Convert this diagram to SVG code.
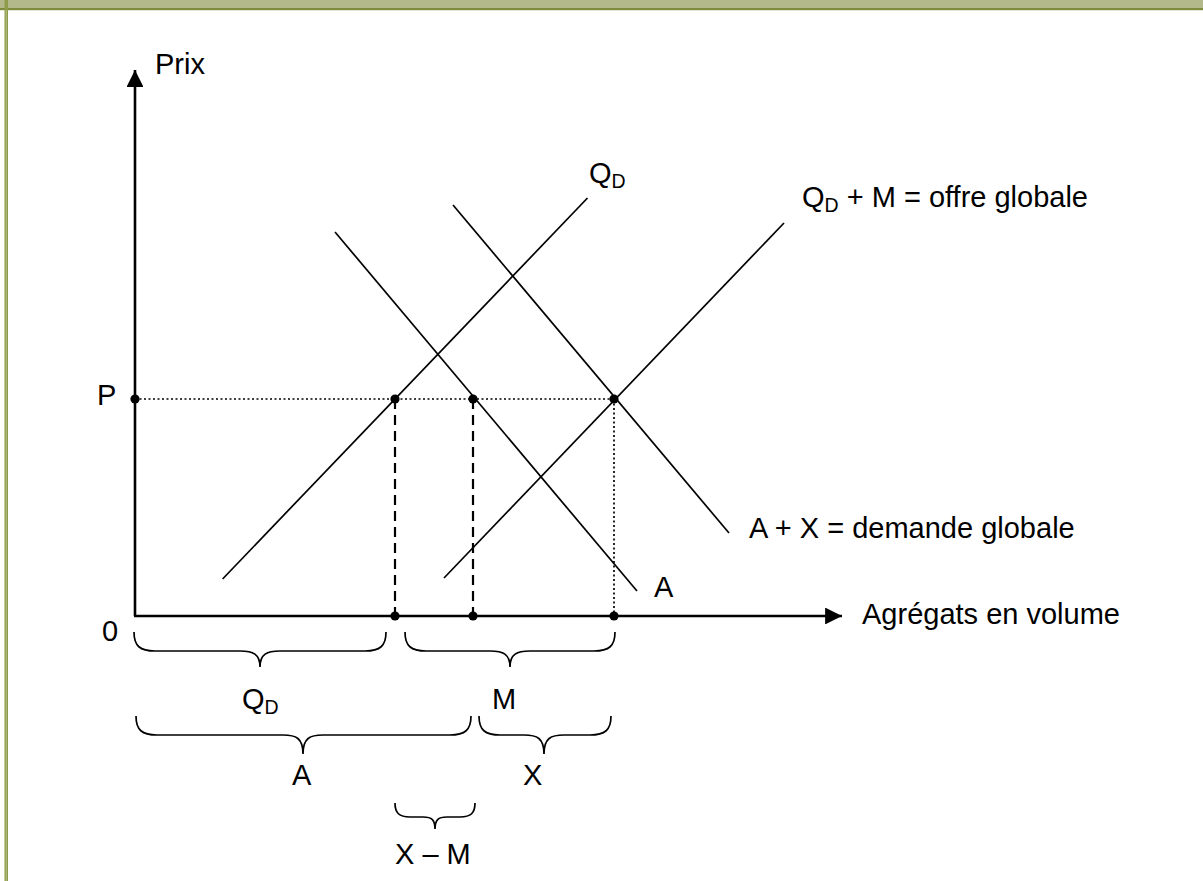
<svg xmlns="http://www.w3.org/2000/svg" width="1203" height="881" viewBox="0 0 1203 881">
<defs>
<style>
text{font-family:"Liberation Sans",Arial,sans-serif;font-size:29px;fill:#000}
.sub{font-size:19.5px}
.ax{stroke:#000;stroke-width:2.6;fill:none}
.ln{stroke:#000;stroke-width:1.7;fill:none}
.dash{stroke:#000;stroke-width:2.2;stroke-dasharray:10 6;fill:none}
.dot{stroke:#000;stroke-width:1.7;stroke-dasharray:2 2.5;fill:none}
.br{stroke:#000;stroke-width:1.7;fill:none}
</style>
<marker id="arr" viewBox="0 0 10 10" refX="10" refY="5" markerWidth="6.5" markerHeight="6.5" orient="auto" markerUnits="strokeWidth">
<path d="M0,0 L10,5 L0,10 z" fill="#000"/>
</marker>
</defs>
<rect x="0" y="0" width="1203" height="881" fill="#fff"/>
<g id="frame">
<rect x="0" y="0" width="1203" height="9" fill="#b3b98b"/>
<rect x="0" y="8" width="1203" height="2.2" fill="#7f8c3e"/>
<rect x="4.5" y="0" width="3.5" height="881" fill="#8e9b4a"/>
<rect x="5.7" y="10" width="1.1" height="871" fill="#b5bd83"/>
</g>
<g id="axes">
<line class="ax" x1="135" y1="616" x2="135" y2="70" marker-end="url(#arr)"/>
<line class="ax" x1="134" y1="616" x2="842" y2="616" marker-end="url(#arr)"/>
</g>
<g id="connectors">
<line class="ln" x1="222.6" y1="579" x2="587.5" y2="198"/>
<line class="ln" x1="444" y1="578" x2="784" y2="223"/>
<line class="ln" x1="335" y1="232" x2="637" y2="591"/>
<line class="ln" x1="453" y1="205" x2="729" y2="533"/>
<line class="dot" x1="135" y1="399" x2="614" y2="399"/>
<line class="dash" x1="395" y1="399" x2="395" y2="616"/>
<line class="dash" x1="473" y1="399" x2="473" y2="616"/>
<line class="dot" x1="614" y1="399" x2="614" y2="616"/>
</g>
<g id="points" fill="#000">
<circle cx="135" cy="399" r="4.6"/>
<circle cx="395" cy="399" r="4.6"/>
<circle cx="473" cy="399" r="4.6"/>
<circle cx="614" cy="399" r="4.6"/>
<circle cx="395" cy="616" r="4.6"/>
<circle cx="473" cy="616" r="4.6"/>
<circle cx="614" cy="616" r="4.6"/>
</g>
<g id="braces">
<path class="br" d="M134,632 C134,646 140,651 155,651 L240,651 C253,651 260,654 260,667 C260,654 267,651 280,651 L365,651 C380,651 386,646 386,632"/>
<path class="br" d="M405,632 C405,646 411,651 426,651 L490,651 C503,651 510,654 510,667 C510,654 517,651 530,651 L594,651 C609,651 615,646 615,632"/>
<path class="br" d="M136,716 C136,730 142,735 157,735 L283,735 C296,735 303,738 303,754 C303,738 310,735 323,735 L450,735 C465,735 471,730 471,716"/>
<path class="br" d="M479,716 C479,730 485,735 500,735 L524,735 C537,735 544,738 544,754 C544,738 551,735 564,735 L590,735 C605,735 611,730 611,716"/>
<path class="br" d="M395,803 C395,813 399,817 410,817 L423,817 C432,817 435,820 435,829 C435,820 438,817 447,817 L460,817 C471,817 475,813 475,803"/>
</g>
<g id="labels">
<text x="155" y="74">Prix</text>
<text x="589" y="183">Q<tspan class="sub" dy="5">D</tspan></text>
<text x="802" y="207">Q<tspan class="sub" dy="5">D</tspan><tspan dy="-5"> + M = offre globale</tspan></text>
<text x="97" y="405">P</text>
<text x="749" y="538">A + X = demande globale</text>
<text x="654" y="597">A</text>
<text x="862" y="624">Agrégats en volume</text>
<text x="102" y="641">0</text>
<text x="242" y="709">Q<tspan class="sub" dy="5">D</tspan></text>
<text x="492" y="709">M</text>
<text x="292" y="785">A</text>
<text x="523" y="785">X</text>
<text x="395" y="864">X – M</text>
</g>
</svg>
